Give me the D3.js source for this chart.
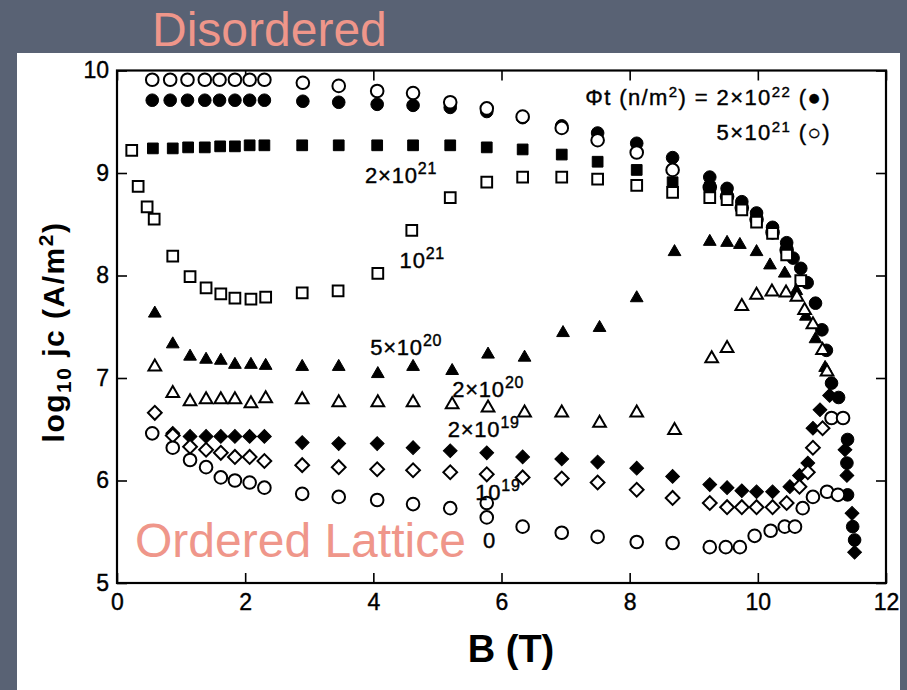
<!DOCTYPE html>
<html>
<head>
<meta charset="utf-8">
<script src="https://cdn.jsdelivr.net/npm/d3@7"></script>
<style>
  body { margin: 0; background: #596274; }
  svg { display: block; }
</style>
</head>
<body>
<div id="chart"></div>
<script>
// data: [B (T), log10 jc] for each fluence ------------------------------------------------
const phi2e22 = [[0.55,9.71],[0.83,9.71],[1.1,9.71],[1.37,9.71],[1.6,9.71],[1.84,9.71],[2.07,9.71],[2.3,9.71],
  [2.9,9.70],[3.46,9.69],[4.06,9.67],[4.62,9.66],[5.2,9.64],[5.77,9.60],[6.33,9.54],[6.94,9.46],[7.5,9.39],
  [8.11,9.29],[8.67,9.15],[9.25,8.96],[9.52,8.85],[9.75,8.72],[9.98,8.61],[10.23,8.47],[10.45,8.32],
  [10.55,8.17],[10.67,8.07],[10.77,7.93],[10.9,7.73],[11.0,7.47],[11.07,7.27],[11.15,6.95],[11.26,6.81],
  [11.4,6.40],[11.39,6.17],[11.4,5.86],[11.48,5.55],[11.51,5.42]];
const phi5e21 = [[0.55,9.91],[0.83,9.91],[1.1,9.91],[1.37,9.91],[1.6,9.91],[1.84,9.91],[2.07,9.91],[2.3,9.91],
  [2.9,9.88],[3.46,9.85],[4.06,9.80],[4.62,9.78],[5.2,9.69],[5.77,9.63],[6.33,9.55],[6.94,9.44],[7.5,9.32],
  [8.11,9.20],[8.67,9.03],[9.25,8.86],[9.52,8.77],[9.75,8.66],[9.98,8.55],[10.23,8.42],[10.45,8.25],
  [11.15,6.61],[11.33,6.61]];
const phi2e21 = [[0.56,9.24],[0.87,9.24],[1.11,9.25],[1.37,9.25],[1.61,9.26],[1.84,9.26],[2.07,9.27],[2.3,9.27],
  [2.89,9.27],[3.46,9.27],[4.06,9.27],[4.62,9.27],[5.2,9.27],[5.77,9.25],[6.33,9.23],[6.94,9.18],[7.5,9.11],
  [8.11,9.03],[8.67,8.91],[9.25,8.86],[9.52,8.78],[9.75,8.68],[9.98,8.58],[10.23,8.44],[10.45,8.28]];
const phi1e21 = [[0.23,9.22],[0.33,8.87],[0.47,8.67],[0.58,8.55],[0.87,8.19],[1.14,7.99],[1.39,7.88],[1.62,7.82],
  [1.84,7.78],[2.09,7.77],[2.32,7.79],[2.89,7.83],[3.45,7.85],[4.07,8.02],[4.6,8.44],[5.2,8.76],[5.77,8.91],
  [6.33,8.96],[6.94,8.96],[7.5,8.94],[8.11,8.88],[8.67,8.81],[9.25,8.76],[9.52,8.74],[9.75,8.64],[9.98,8.52],
  [10.23,8.41],[10.45,8.2],[10.67,7.95]];
const phi5e20 = [[0.59,7.63],[0.87,7.33],[1.14,7.21],[1.39,7.18],[1.62,7.17],[1.84,7.13],[2.09,7.13],[2.32,7.12],
  [2.89,7.11],[3.46,7.11],[4.07,7.04],[4.62,7.11],[5.23,7.07],[5.79,7.23],[6.36,7.20],[6.96,7.44],[7.53,7.49],
  [8.11,7.78],[8.7,8.23],[9.25,8.33],[9.52,8.32],[9.72,8.30],[9.98,8.23],[10.19,8.10],[10.42,8.02],
  [10.6,7.85],[10.75,7.6],[10.9,7.38],[11.05,7.1]];
const phi2e20 = [[0.59,7.11],[0.87,6.85],[1.14,6.77],[1.39,6.79],[1.62,6.79],[1.84,6.79],[2.09,6.75],[2.32,6.80],
  [2.89,6.79],[3.46,6.76],[4.07,6.76],[4.62,6.76],[5.23,6.74],[5.79,6.71],[6.36,6.66],[6.94,6.66],[7.53,6.56],
  [8.11,6.66],[8.7,6.49],[9.28,7.19],[9.52,7.29],[9.75,7.70],[9.98,7.81],[10.22,7.84],[10.44,7.83],
  [10.61,7.79],[10.73,7.66],[10.86,7.52],[11.01,7.27],[11.08,7.06]];
const phi2e19 = [[0.87,6.46],[1.14,6.43],[1.39,6.43],[1.62,6.43],[1.84,6.43],[2.07,6.43],[2.3,6.43],
  [2.89,6.37],[3.46,6.36],[4.06,6.36],[4.62,6.32],[5.2,6.29],[5.77,6.27],[6.33,6.23],[6.94,6.21],[7.5,6.18],
  [8.11,6.12],[8.67,6.04],[9.25,5.96],[9.52,5.93],[9.75,5.90],[9.98,5.89],[10.23,5.89],[10.5,5.94],
  [10.65,6.05],[10.78,6.17],[10.86,6.51],[10.97,6.69],[11.12,6.83],
  [11.36,6.30],[11.39,6.05],[11.47,5.68],[11.51,5.30]];
const phi1e19 = [[0.59,6.66],[0.87,6.44],[1.14,6.33],[1.39,6.30],[1.62,6.27],[1.84,6.23],[2.07,6.23],[2.3,6.19],
  [2.89,6.15],[3.46,6.13],[4.06,6.11],[4.62,6.10],[5.2,6.08],[5.77,6.06],[6.33,6.03],[6.94,6.02],[7.5,5.98],
  [8.11,5.91],[8.67,5.83],[9.25,5.78],[9.52,5.74],[9.75,5.74],[9.98,5.74],[10.23,5.74],[10.45,5.78],
  [10.65,5.94],[10.78,6.08],[10.86,6.32],[11.01,6.51]];
const phi0 = [[0.55,6.46],[0.87,6.32],[1.14,6.20],[1.39,6.13],[1.62,6.03],[1.84,6.00],[2.07,5.98],[2.3,5.93],
  [2.89,5.87],[3.46,5.84],[4.06,5.81],[4.62,5.77],[5.2,5.73],[5.77,5.78],[5.77,5.64],[6.33,5.55],[6.94,5.49],
  [7.5,5.45],[8.11,5.40],[8.67,5.39],[9.25,5.35],[9.5,5.35],[9.72,5.35],[9.95,5.46],[10.2,5.51],[10.42,5.55],
  [10.58,5.55],[10.7,5.73],[10.86,5.84],[11.08,5.89],[11.25,5.86]];

const xTicks = [0, 2, 4, 6, 8, 10, 12];
const yTicks = [5, 6, 7, 8, 9, 10];

// 系列ごとの記号 ------------------------------------------------------------------------------
const series = [
  {data: phi2e22, shape: 'circle', filled: true},
  {data: phi5e21, shape: 'circle', filled: false},
  {data: phi2e21, shape: 'square', filled: true},
  {data: phi1e21, shape: 'square', filled: false},
  {data: phi5e20, shape: 'triangle', filled: true},
  {data: phi2e20, shape: 'triangle', filled: false},
  {data: phi2e19, shape: 'diamond', filled: true},
  {data: phi1e19, shape: 'diamond', filled: false},
  {data: phi0, shape: 'circle', filled: false}
];

// curve labels: [text, superscript, B, log jc]
const curveLabels = [
  ['2\u00d710', '21', 3.87, 8.90],
  ['10', '21', 4.41, 8.07],
  ['5\u00d710', '20', 3.95, 7.22],
  ['2\u00d710', '20', 5.23, 6.81],
  ['2\u00d710', '19', 5.16, 6.42],
  ['10', '19', 5.59, 5.81],
  ['0', '', 5.71, 5.34]
];

// SVG -----------------------------------------------------------------------------------------
const width = 907;
const height = 690;
const svg = d3.select('#chart').append('svg')
  .attr('width', width)
  .attr('height', height);

svg.append('rect').attr('width', width).attr('height', height).attr('fill', '#596274');
svg.append('rect').attr('x', 17).attr('y', 53).attr('width', 883).attr('height', 637).attr('fill', '#ffffff');

const xScale = d3.scaleLinear().domain([0, 12]).range([117, 886]);
const yScale = d3.scaleLinear().domain([5, 10]).range([583, 70.5]);

const font = '"Liberation Sans", Arial, sans-serif';

// axes (ticks inside, all four sides)
const axisStyle = g => {
  g.select('.domain').remove();
  g.selectAll('.tick line').attr('stroke', '#000').attr('stroke-width', 1.6);
  g.selectAll('.tick text').attr('font-family', font).attr('font-size', '23px')
    .attr('fill', '#000').attr('stroke', '#000').attr('stroke-width', 0.4);
};
svg.append('g')
  .attr('transform', 'translate(0,583)')
  .call(d3.axisBottom(xScale).tickValues(xTicks).tickSize(-10).tickPadding(11).tickFormat(d3.format('d')))
  .call(axisStyle);
svg.append('g')
  .attr('transform', 'translate(0,70.5)')
  .call(d3.axisTop(xScale).tickValues(xTicks).tickSize(-10).tickFormat(''))
  .call(axisStyle);
svg.append('g')
  .attr('transform', 'translate(117,0)')
  .call(d3.axisLeft(yScale).tickValues(yTicks).tickSize(-10).tickPadding(8).tickFormat(d3.format('d')))
  .call(axisStyle);
svg.append('g')
  .attr('transform', 'translate(886,0)')
  .call(d3.axisRight(yScale).tickValues(yTicks).tickSize(-10).tickFormat(''))
  .call(axisStyle);

svg.append('rect')
  .attr('x', xScale(0)).attr('y', yScale(10))
  .attr('width', xScale(12) - xScale(0)).attr('height', yScale(5) - yScale(10))
  .attr('fill', 'none').attr('stroke', '#000').attr('stroke-width', 2.2);

// points
const symbolOf = {
  circle: d3.symbol(d3.symbolCircle, 125),
  square: d3.symbol(d3.symbolSquare, 115),
  triangle: d3.symbol(d3.symbolTriangle, 70),
  diamond: d3.symbol(d3.symbolSquare, 95)
};
series.forEach(s => {
  svg.append('g').selectAll('path')
    .data(s.data)
    .enter()
    .append('path')
    .attr('d', symbolOf[s.shape])
    .attr('transform', d => 'translate(' + xScale(d[0]) + ',' + yScale(d[1]) + ')' +
      (s.shape === 'diamond' ? ' rotate(45)' : ''))
    .attr('fill', s.filled ? '#000' : '#fff')
    .attr('stroke', '#000')
    .attr('stroke-width', s.filled ? 1 : 2);
});

// curve labels
curveLabels.forEach(l => {
  const t = svg.append('text')
    .attr('x', xScale(l[2]))
    .attr('y', yScale(l[3]))
    .attr('font-family', font)
    .attr('font-size', '22px')
    .attr('letter-spacing', 0.8)
    .attr('fill', '#000')
    .attr('stroke', '#000')
    .attr('stroke-width', 0.4);
  t.append('tspan').text(l[0]);
  if (l[1]) t.append('tspan').attr('dy', -9).attr('font-size', '16px').text(l[1]);
});

// legend text
const legendText = (y) => svg.append('text')
  .attr('x', xScale(11.14)).attr('y', yScale(y))
  .attr('text-anchor', 'end')
  .attr('font-family', font).attr('font-size', '22px').attr('letter-spacing', 1.4)
  .attr('fill', '#000').attr('stroke', '#000').attr('stroke-width', 0.4);
const leg1 = legendText(9.66);
leg1.append('tspan').text('\u03a6t (n/m');
leg1.append('tspan').attr('dy', -8).attr('font-size', '15px').text('2');
leg1.append('tspan').attr('dy', 8).text(') = 2\u00d710');
leg1.append('tspan').attr('dy', -8).attr('font-size', '15px').text('22');
leg1.append('tspan').attr('dy', 8).text(' (\u25cf)');
const leg2 = legendText(9.32);
leg2.append('tspan').text('5\u00d710');
leg2.append('tspan').attr('dy', -8).attr('font-size', '15px').text('21');
leg2.append('tspan').attr('dy', 8).text(' (\u25cb)');

// axis titles
svg.append('text')
  .attr('x', 511).attr('y', 662)
  .attr('text-anchor', 'middle')
  .attr('font-family', font).attr('font-weight', 'bold').attr('font-size', '38px')
  .text('B (T)');

const yTitle = svg.append('text')
  .attr('transform', 'translate(64,332) rotate(-90)')
  .attr('text-anchor', 'middle')
  .attr('font-family', font).attr('font-weight', 'bold').attr('font-size', '30px')
  .attr('letter-spacing', 1.5);
yTitle.append('tspan').text('log');
yTitle.append('tspan').attr('dy', 7).attr('font-size', '21px').text('10');
yTitle.append('tspan').attr('dy', -7).text(' jc (A/m');
yTitle.append('tspan').attr('dy', -11).attr('font-size', '21px').text('2');
yTitle.append('tspan').attr('dy', 11).text(')');

// overlay titles
svg.append('text')
  .attr('x', 152).attr('y', 46)
  .attr('font-family', font).attr('font-size', '48px').attr('fill', '#ef968a')
  .text('Disordered');
svg.append('text')
  .attr('x', 135).attr('y', 557)
  .attr('font-family', font).attr('font-size', '48px').attr('fill', '#ef968a')
  .text('Ordered Lattice');
</script>
</body>
</html>
